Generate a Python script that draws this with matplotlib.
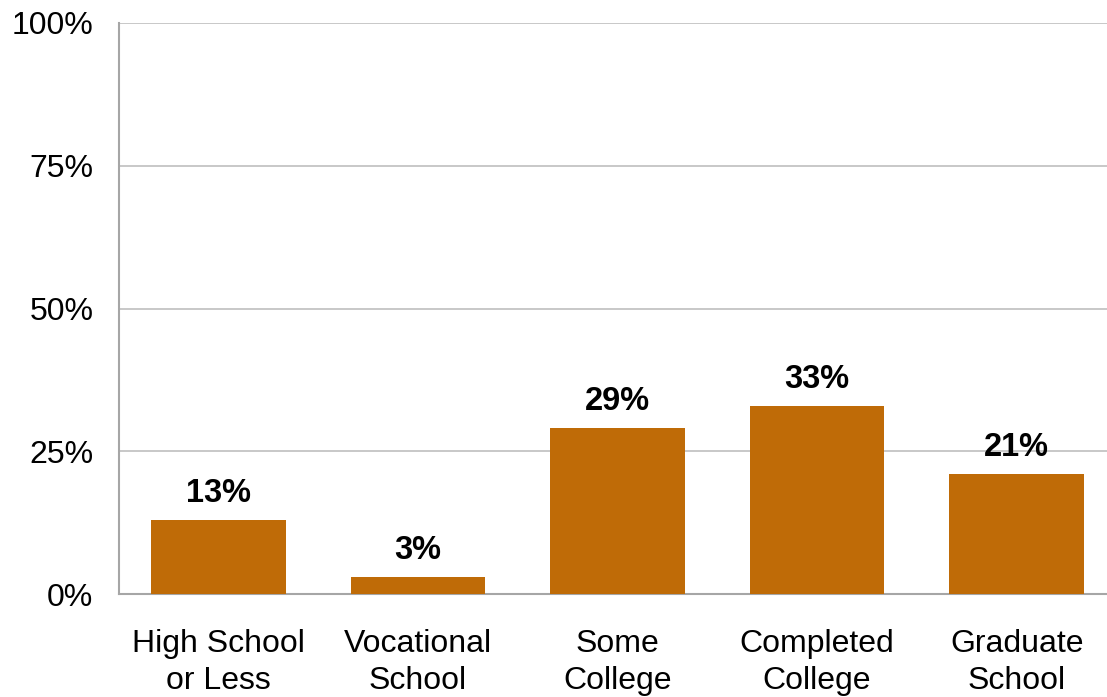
import matplotlib.pyplot as plt
import numpy as np

plt.rcParams['font.family'] = ['Liberation Sans', 'DejaVu Sans']

categories = ['High School\nor Less', 'Vocational\nSchool', 'Some\nCollege',
              'Completed\nCollege', 'Graduate\nSchool']
values = [13, 3, 29, 33, 21]
yticks = [0, 25, 50, 75, 100]

fig = plt.figure(figsize=(11.07, 6.97), dpi=100)
ax = fig.add_axes([118.5 / 1107, 103 / 697, 998 / 1107, 571 / 697])

x = np.arange(len(categories))
bars = ax.bar(x, values, width=0.675, color='#BF6B07', zorder=3)

for xi, v in zip(x, values):
    ax.annotate(f'{v}%', (xi, v), xytext=(0, 11), textcoords='offset pixels',
                ha='center', va='bottom', fontsize=23.5, fontweight='bold')

ax.set_xlim(-0.5, len(categories) - 0.5)
ax.set_ylim(0, 100)
ax.set_yticks(yticks)
ax.set_yticklabels([f'{t}%' for t in yticks], fontsize=23)
ax.set_xticks(x)
ax.set_xticklabels(categories, fontsize=23, linespacing=1.3)
ax.tick_params(axis='both', length=0)
ax.tick_params(axis='x', pad=25)
ax.tick_params(axis='y', pad=18)

ax.grid(axis='y', color='#BFBFBF', linewidth=1.2, zorder=0)
for s in ['top', 'right']:
    ax.spines[s].set_visible(False)
for s in ['left', 'bottom']:
    ax.spines[s].set_color('#A6A6A6')
    ax.spines[s].set_linewidth(1.5)

fig.savefig('out.png', dpi=100)
